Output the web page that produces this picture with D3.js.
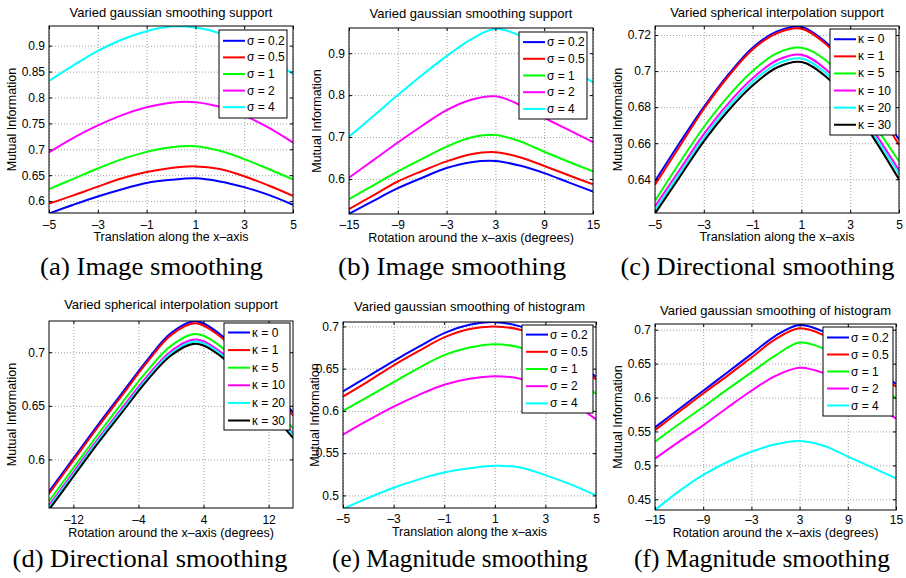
<!DOCTYPE html>
<html><head><meta charset="utf-8">
<script src="https://cdn.jsdelivr.net/npm/d3@7"></script>
<style>
body{margin:0;background:#fff}
svg{display:block}
</style></head><body><svg id="chart" width="906" height="578"></svg>
<script>
// ---------- data ----------
const transX = [-5,-4,-3,-2,-1,0,1,2,3,4,5];
const rotX = [-15,-12,-9,-6,-3,0,3,6,9,12,15];

const sigmaLabels = ["σ = 0.2","σ = 0.5","σ = 1","σ = 2","σ = 4"];
const kappaLabels = ["κ = 0","κ = 1","κ = 5","κ = 10","κ = 20","κ = 30"];
const sigmaColors = ["#0000ff","#ff0000","#00ff00","#ff00ff","#00ffff"];
const kappaColors = ["#0000ff","#ff0000","#00ff00","#ff00ff","#00ffff","#000000"];

const transTicks = [-5,-3,-1,1,3,5];
const transTickLabels = ["–5","–3","–1","1","3","5"];
const rotTicks = [-15,-9,-3,3,9,15];
const rotTickLabels = ["–15","–9","–3","3","9","15"];
const rotTicksD = [-12,-4,4,12];
const rotTickLabelsD = ["–12","–4","4","12"];

const yTicksA = [0.6,0.65,0.7,0.75,0.8,0.85,0.9];
const yTickLabelsA = ["0.6","0.65","0.7","0.75","0.8","0.85","0.9"];
const yTicksB = [0.6,0.7,0.8,0.9];
const yTickLabelsB = ["0.6","0.7","0.8","0.9"];
const yTicksC = [0.64,0.66,0.68,0.70,0.72];
const yTickLabelsC = ["0.64","0.66","0.68","0.7","0.72"];
const yTicksD = [0.6,0.65,0.7];
const yTickLabelsD = ["0.6","0.65","0.7"];
const yTicksE = [0.5,0.55,0.6,0.65,0.7];
const yTickLabelsE = ["0.5","0.55","0.6","0.65","0.7"];
const yTicksF = [0.45,0.5,0.55,0.6,0.65,0.7];
const yTickLabelsF = ["0.45","0.5","0.55","0.6","0.65","0.7"];

// (a) image smoothing, translation
const aValues = [
  [0.576,0.593,0.609,0.623,0.635,0.641,0.644,0.638,0.627,0.612,0.593],
  [0.595,0.611,0.628,0.644,0.656,0.664,0.667,0.662,0.648,0.630,0.610],
  [0.623,0.643,0.663,0.681,0.695,0.704,0.706,0.697,0.681,0.662,0.642],
  [0.694,0.722,0.746,0.766,0.781,0.790,0.791,0.782,0.765,0.742,0.713],
  [0.832,0.862,0.890,0.912,0.928,0.937,0.935,0.924,0.905,0.878,0.845]
];
// (b) image smoothing, rotation
const bValues = [
  [0.517,0.548,0.578,0.603,0.626,0.640,0.643,0.632,0.614,0.592,0.570],
  [0.528,0.561,0.594,0.619,0.642,0.659,0.664,0.652,0.631,0.609,0.587],
  [0.552,0.585,0.618,0.648,0.677,0.699,0.705,0.690,0.665,0.641,0.618],
  [0.603,0.645,0.687,0.727,0.764,0.789,0.797,0.777,0.746,0.717,0.688],
  [0.701,0.750,0.800,0.848,0.893,0.933,0.958,0.942,0.905,0.868,0.830]
];
// (c) directional smoothing, translation
const cValues = [
  [0.639,0.660,0.680,0.698,0.713,0.722,0.7245,0.716,0.702,0.683,0.662],
  [0.637,0.658,0.679,0.697,0.712,0.721,0.7235,0.715,0.700,0.681,0.659],
  [0.628,0.649,0.669,0.686,0.700,0.710,0.713,0.706,0.690,0.670,0.650],
  [0.625,0.645,0.665,0.682,0.696,0.706,0.709,0.701,0.686,0.666,0.645],
  [0.623,0.643,0.663,0.680,0.694,0.704,0.707,0.699,0.684,0.664,0.643],
  [0.621,0.641,0.661,0.678,0.692,0.702,0.705,0.697,0.682,0.662,0.640]
];
// (d) directional smoothing, rotation
const dValues = [
  [0.570,0.601,0.632,0.662,0.692,0.718,0.729,0.717,0.695,0.669,0.644],
  [0.568,0.599,0.630,0.660,0.690,0.716,0.727,0.715,0.693,0.667,0.641],
  [0.561,0.592,0.623,0.653,0.682,0.706,0.717,0.706,0.683,0.656,0.629],
  [0.557,0.588,0.619,0.648,0.677,0.701,0.712,0.701,0.678,0.651,0.624],
  [0.555,0.586,0.617,0.646,0.675,0.699,0.710,0.699,0.676,0.649,0.623],
  [0.553,0.584,0.615,0.644,0.673,0.697,0.708,0.697,0.674,0.647,0.620]
];
// (e) magnitude smoothing, translation
const eValues = [
  [0.623,0.641,0.659,0.676,0.692,0.702,0.705,0.700,0.688,0.667,0.640],
  [0.617,0.635,0.654,0.671,0.687,0.697,0.700,0.696,0.684,0.664,0.637],
  [0.600,0.617,0.634,0.651,0.666,0.675,0.679,0.675,0.664,0.645,0.620],
  [0.572,0.589,0.605,0.619,0.631,0.638,0.641,0.638,0.627,0.611,0.590],
  [0.484,0.497,0.509,0.519,0.527,0.532,0.535,0.533,0.524,0.513,0.500]
];
// (f) magnitude smoothing, rotation
const fValues = [
  [0.556,0.583,0.610,0.637,0.664,0.691,0.707,0.697,0.675,0.648,0.620],
  [0.552,0.579,0.606,0.632,0.659,0.686,0.702,0.692,0.670,0.643,0.616],
  [0.535,0.561,0.586,0.612,0.637,0.662,0.681,0.672,0.652,0.626,0.599],
  [0.510,0.535,0.559,0.585,0.610,0.632,0.644,0.636,0.617,0.593,0.569],
  [0.434,0.462,0.486,0.505,0.520,0.531,0.536,0.529,0.513,0.497,0.481]
];

const titles = ["Varied gaussian smoothing support","Varied gaussian smoothing support",
  "Varied spherical interpolation support","Varied spherical interpolation support",
  "Varied gaussian smoothing of histogram","Varied gaussian smoothing of histogram"];
const xLabelTrans = "Translation along the x–axis";
const xLabelRot = "Rotation around the x–axis (degrees)";
const yLabel = "Mutual Information";
const captions = ["(a) Image smoothing","(b) Image smoothing","(c) Directional smoothing",
  "(d) Directional smoothing","(e) Magnitude smoothing","(f) Magnitude smoothing"];

// ---------- layout ----------
const panels = [
  {xs:transX, vals:aValues, labels:sigmaLabels, colors:sigmaColors, xDom:[-5,5], yDom:[0.577,0.938],
   xt:transTicks, xtl:transTickLabels, yt:yTicksA, ytl:yTickLabelsA, xl:xLabelTrans,
   L:49,R:293,T:26,B:213, titleY:17, ylX:12, tickBase:228.5, xlY:241,
   leg:{x:219,y:30,w:68,h:88,row:16.6}, cap:{x:151.5,y:275,w:223}},
  {xs:rotX, vals:bValues, labels:sigmaLabels, colors:sigmaColors, xDom:[-15,15], yDom:[0.5165,0.960],
   xt:rotTicks, xtl:rotTickLabels, yt:yTicksB, ytl:yTickLabelsB, xl:xLabelRot,
   L:349,R:593,T:28,B:214, titleY:18, ylX:317, tickBase:229, xlY:241.5,
   leg:{x:519,y:32,w:68,h:87,row:16.7}, cap:{x:452,y:275,w:228}},
  {xs:transX, vals:cValues, labels:kappaLabels, colors:kappaColors, xDom:[-5,5], yDom:[0.6213,0.725],
   xt:transTicks, xtl:transTickLabels, yt:yTicksC, ytl:yTickLabelsC, xl:xLabelTrans,
   L:655,R:899,T:26,B:213, titleY:17, ylX:618, tickBase:228.5, xlY:241,
   leg:{x:830,y:29,w:66,h:106,row:17.1}, cap:{x:757.5,y:275,w:274}},
  {xs:rotX, vals:dValues, labels:kappaLabels, colors:kappaColors, xDom:[-15,15], yDom:[0.5546,0.7292],
   xt:rotTicksD, xtl:rotTickLabelsD, yt:yTicksD, ytl:yTickLabelsD, xl:xLabelRot,
   L:49,R:293,T:321,B:508, titleY:309, ylX:12, tickBase:523.5, xlY:536.5,
   leg:{x:224,y:323,w:66,h:107,row:17.6}, cap:{x:150,y:567,w:275}},
  {xs:transX, vals:eValues, labels:sigmaLabels, colors:sigmaColors, xDom:[-5,5], yDom:[0.4851,0.7052],
   xt:transTicks, xtl:transTickLabels, yt:yTicksE, ytl:yTickLabelsE, xl:xLabelTrans,
   L:343,R:596,T:322,B:508, titleY:311, ylX:315, tickBase:522.5, xlY:535.5,
   leg:{x:522,y:325,w:71,h:88,row:17.2}, cap:{x:460,y:567,w:256}},
  {xs:rotX, vals:fValues, labels:sigmaLabels, colors:sigmaColors, xDom:[-15,15], yDom:[0.4342,0.7084],
   xt:rotTicks, xtl:rotTickLabels, yt:yTicksF, ytl:yTickLabelsF, xl:xLabelRot,
   L:655,R:896,T:324,B:510, titleY:315, ylX:618, tickBase:524, xlY:536.5,
   leg:{x:823,y:327,w:70,h:89,row:17}, cap:{x:762,y:567,w:256}}
];

const sans = '"Liberation Sans", Arial, Helvetica, sans-serif';
const serif = '"Liberation Serif","Times New Roman",serif';
const svg = d3.select('#chart');
svg.append('rect').attr('width',906).attr('height',578).attr('fill','#fff');

panels.forEach((p,pi)=>{
  const x = d3.scaleLinear().domain(p.xDom).range([p.L,p.R]);
  const y = d3.scaleLinear().domain(p.yDom).range([p.B,p.T]);
  const w = p.R-p.L, h = p.B-p.T;
  const g = svg.append('g');
  const cid = 'clip'+pi;
  g.append('clipPath').attr('id',cid).append('rect')
    .attr('x',p.L).attr('y',p.T).attr('width',w).attr('height',h);

  // grid
  const gx = g.append('g').attr('transform',`translate(0,${p.B})`)
    .call(d3.axisBottom(x).tickValues(p.xt).tickSize(-h).tickFormat(''));
  const gy = g.append('g').attr('transform',`translate(${p.L},0)`)
    .call(d3.axisLeft(y).tickValues(p.yt).tickSize(-w).tickFormat(''));
  [gx,gy].forEach(s=>{
    s.select('.domain').remove();
    s.selectAll('line').attr('stroke','#a0a0a0').attr('stroke-dasharray','1,2').attr('stroke-width',1);
  });

  // lines
  const line = d3.line().x((d,i)=>x(p.xs[i])).y(d=>y(d)).curve(d3.curveCatmullRom.alpha(0.5));
  const lg = g.append('g').attr('clip-path',`url(#${cid})`);
  p.vals.forEach((s,i)=>{
    lg.append('path').attr('d',line(s)).attr('fill','none')
      .attr('stroke',p.colors[i]).attr('stroke-width',2).attr('stroke-linejoin','round');
  });

  // axes with inward ticks
  const fontTicks = s=>{
    s.select('.domain').remove();
    s.selectAll('line').attr('stroke','#000');
    s.selectAll('text').attr('font-family',sans).attr('font-size',12).attr('fill','#000');
  };
  g.append('g').attr('transform',`translate(0,${p.B})`)
    .call(d3.axisBottom(x).tickValues(p.xt).tickFormat((d,i)=>p.xtl[i])
      .tickSizeInner(-3).tickSizeOuter(0).tickPadding(p.tickBase-p.B-8.5)).call(fontTicks);
  g.append('g').attr('transform',`translate(0,${p.T})`)
    .call(d3.axisTop(x).tickValues(p.xt).tickFormat('').tickSizeInner(-3).tickSizeOuter(0)).call(fontTicks);
  g.append('g').attr('transform',`translate(${p.L},0)`)
    .call(d3.axisLeft(y).tickValues(p.yt).tickFormat((d,i)=>p.ytl[i])
      .tickSizeInner(-3).tickSizeOuter(0).tickPadding(4)).call(fontTicks);
  g.append('g').attr('transform',`translate(${p.R},0)`)
    .call(d3.axisRight(y).tickValues(p.yt).tickFormat('').tickSizeInner(-3).tickSizeOuter(0)).call(fontTicks);

  // box
  g.append('rect').attr('x',p.L).attr('y',p.T).attr('width',w).attr('height',h)
    .attr('fill','none').attr('stroke','#000').attr('stroke-width',1);

  // title & labels
  g.append('text').attr('x',(p.L+p.R)/2).attr('y',p.titleY).attr('text-anchor','middle')
    .attr('font-family',sans).attr('font-size',13).text(titles[pi]);
  g.append('text').attr('x',(p.L+p.R)/2).attr('y',p.xlY).attr('text-anchor','middle')
    .attr('font-family',sans).attr('font-size',12.5).text(p.xl);
  g.append('text').attr('transform',`translate(${p.ylX},${(p.T+p.B)/2}) rotate(-90)`)
    .attr('text-anchor','middle').attr('dominant-baseline','central')
    .attr('font-family',sans).attr('font-size',12.5).text(yLabel);

  // legend
  const lgd = g.append('g');
  lgd.append('rect').attr('x',p.leg.x).attr('y',p.leg.y).attr('width',p.leg.w).attr('height',p.leg.h)
    .attr('fill','#fff').attr('stroke','#000').attr('stroke-width',1);
  const n = p.labels.length;
  const pad = (p.leg.h - n*p.leg.row)/2;
  p.labels.forEach((lab,i)=>{
    const cy = p.leg.y + pad + (i+0.5)*p.leg.row;
    lgd.append('line').attr('x1',p.leg.x+4).attr('x2',p.leg.x+26).attr('y1',cy).attr('y2',cy)
      .attr('stroke',p.colors[i]).attr('stroke-width',2);
    lgd.append('text').attr('x',p.leg.x+28).attr('y',cy).attr('dominant-baseline','central')
      .attr('font-family',sans).attr('font-size',12).text(lab);
  });

  // caption: natural glyphs scaled horizontally to the measured width
  const cap = svg.append('text').attr('x',0).attr('y',0).attr('text-anchor','middle')
    .attr('font-family',serif).attr('font-size',25)
    .text(captions[pi]);
  const nat = cap.node().getComputedTextLength();
  const sx = p.cap.w / nat;
  cap.attr('transform',`translate(${p.cap.x},${p.cap.y}) scale(${sx.toFixed(4)},1)`);
});
</script></body></html>
